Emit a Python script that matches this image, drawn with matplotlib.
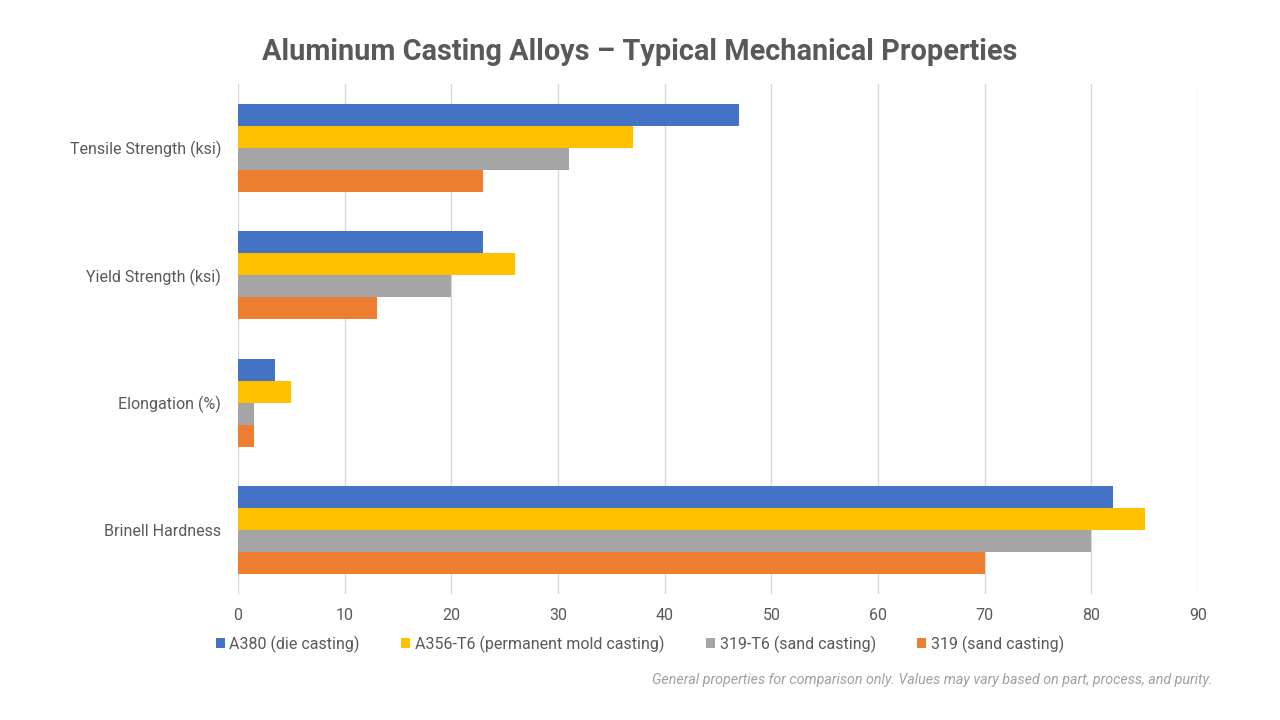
import matplotlib
matplotlib.use("Agg")
import matplotlib.pyplot as plt
import numpy as np

categories = ["Tensile Strength (ksi)", "Yield Strength (ksi)", "Elongation (%)", "Brinell Hardness"]
series_names = ["A380 (die casting)", "A356-T6 (permanent mold casting)", "319-T6 (sand casting)", "319 (sand casting)"]
a380 = [47, 23, 3.5, 82]
a356 = [37, 26, 5, 85]
s319t6 = [31, 20, 1.5, 80]
s319 = [23, 13, 1.5, 70]
series_values = [a380, a356, s319t6, s319]
colors = ["#4472C4", "#FFC000", "#A5A5A5", "#ED7D31"]
xticks = [0, 10, 20, 30, 40, 50, 60, 70, 80, 90]

plt.rcParams['font.family'] = ['Roboto', 'DejaVu Sans']

fig = plt.figure(figsize=(12.8, 7.2), dpi=100)
ax = fig.add_axes([238/1280, 1-594/720, (1198-238)/1280, (594-84)/720])

n = len(categories)
y = np.arange(n)
bh = 22/127.5
for i, (name, vals, c) in enumerate(zip(series_names, series_values, colors)):
    offs = (i - 1.5) * bh
    ax.barh(y + offs, vals, height=bh, color=c, label=name, zorder=3)

ax.set_ylim(n - 0.5, -0.5)
ax.set_xlim(0, 90)
ax.set_xticks(xticks)
ax.set_yticks(y)
ax.set_yticklabels(categories)
ax.grid(axis='x', color='#D9D9D9', linewidth=1, zorder=0)
for s in ax.spines.values():
    s.set_visible(False)
ax.tick_params(axis='both', length=0, colors='#595959', labelsize=11.5)
ax.tick_params(axis='y', pad=12)
ax.tick_params(axis='x', pad=10)

fig.text(0.5, 1-52/720, "Aluminum Casting Alloys – Typical Mechanical Properties",
         ha='center', va='center', fontsize=20.8, fontweight='bold', color='#595959')

leg = fig.legend(loc='center', bbox_to_anchor=(0.5, 1-644/720), ncol=4, frameon=False,
                 fontsize=11.5, handlelength=0.55, handleheight=0.55, handletextpad=0.3,
                 columnspacing=2.6)
for t in leg.get_texts():
    t.set_color('#595959')

fig.text(1213/1280, 1-680/720,
         "General properties for comparison only. Values may vary based on part, process, and purity.",
         ha='right', va='center', fontsize=10.3, style='italic', color='#A0A0A0')

fig.savefig("out.png", dpi=100)
